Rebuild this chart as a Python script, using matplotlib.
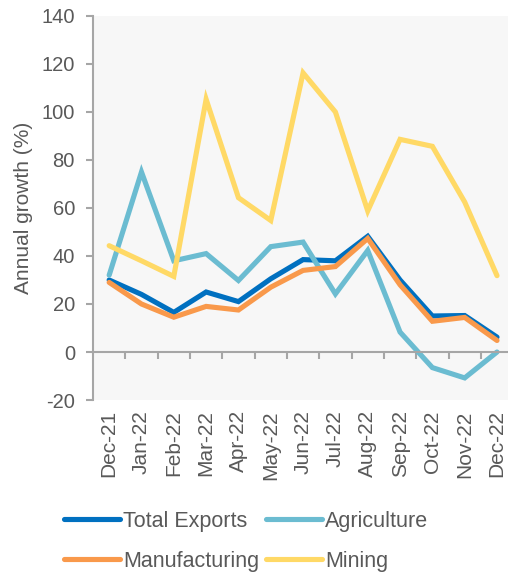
import numpy as np
import matplotlib.pyplot as plt

plt.rcParams['font.family'] = ['Liberation Sans', 'DejaVu Sans']
plt.rcParams['axes.unicode_minus'] = False

months = ['Dec-21', 'Jan-22', 'Feb-22', 'Mar-22', 'Apr-22', 'May-22', 'Jun-22',
          'Jul-22', 'Aug-22', 'Sep-22', 'Oct-22', 'Nov-22', 'Dec-22']

total_exports = [30, 24, 16.5, 25, 21, 30.5, 38.5, 38, 48.2, 30, 15, 15.2, 6.2]
agriculture = [32, 75, 38, 41, 29.8, 43.9, 45.8, 24.2, 42.3, 8.3, -6.5, -10.8, 0]
manufacturing = [29, 20, 14.5, 19, 17.5, 27, 34, 35.6, 47.3, 28, 12.8, 14.4, 4.8]
mining = [44.3, 38, 31.5, 105.3, 64.3, 54.8, 116.3, 100, 58.8, 88.6, 85.7, 62.5, 31.8]

series = [
    ('Total Exports', total_exports, '#0070C0'),
    ('Agriculture', agriculture, '#6BBCD1'),
    ('Manufacturing', manufacturing, '#F9994B'),
    ('Mining', mining, '#FFD966'),
]

text_col = '#595959'
axis_col = '#A6A6A6'

fig = plt.figure(figsize=(5.08, 5.72), dpi=100)
ax = fig.add_axes([93 / 508, 1 - 400 / 572, 1 - 93 / 508, 384 / 572])
ax.set_facecolor('#F7F7F7')

x = np.arange(len(months))
lines = {}
for name, vals, col in series:
    lines[name], = ax.plot(x, vals, color=col, lw=3.7, label=name,
                           solid_capstyle='round', solid_joinstyle='miter')

ax.set_xlim(-0.5, 12.34)
ax.set_ylim(-20, 140)
ax.set_yticks(range(-20, 141, 20))

for s in ['top', 'right']:
    ax.spines[s].set_visible(False)
ax.spines['left'].set_color(axis_col)
ax.spines['left'].set_linewidth(1.5)
ax.spines['bottom'].set_position(('data', 0))
ax.spines['bottom'].set_color(axis_col)
ax.spines['bottom'].set_linewidth(1.5)

ax.set_xticks(x)
ax.set_xticklabels(months, rotation=90, va='top', ha='center')
ax.set_xticks(np.arange(0.5, 12.5, 1), minor=True)
ax.tick_params(axis='x', which='major', length=0, pad=42, labelsize=15,
               labelcolor=text_col)
ax.tick_params(axis='x', which='minor', length=5, width=1.5, color=axis_col,
               direction='out')
ax.tick_params(axis='y', length=5, width=1.5, color=axis_col, labelsize=14.5,
               labelcolor=text_col, pad=8)

ax.set_ylabel('Annual growth (%)', fontsize=15, color=text_col, labelpad=6)

# legend reads row by row: Total Exports, Agriculture / Manufacturing, Mining
order = ['Total Exports', 'Manufacturing', 'Agriculture', 'Mining']
fig.legend([lines[n] for n in order], order, loc='upper left',
           bbox_to_anchor=(64 / 508, 1 - 511 / 572), ncol=2,
           frameon=False, fontsize=15.5, handlelength=2.6, handletextpad=0.16,
           columnspacing=0.28, labelspacing=0.86, labelcolor=text_col,
           borderaxespad=0, borderpad=0)

fig.savefig('out.png', dpi=100, facecolor='white')
